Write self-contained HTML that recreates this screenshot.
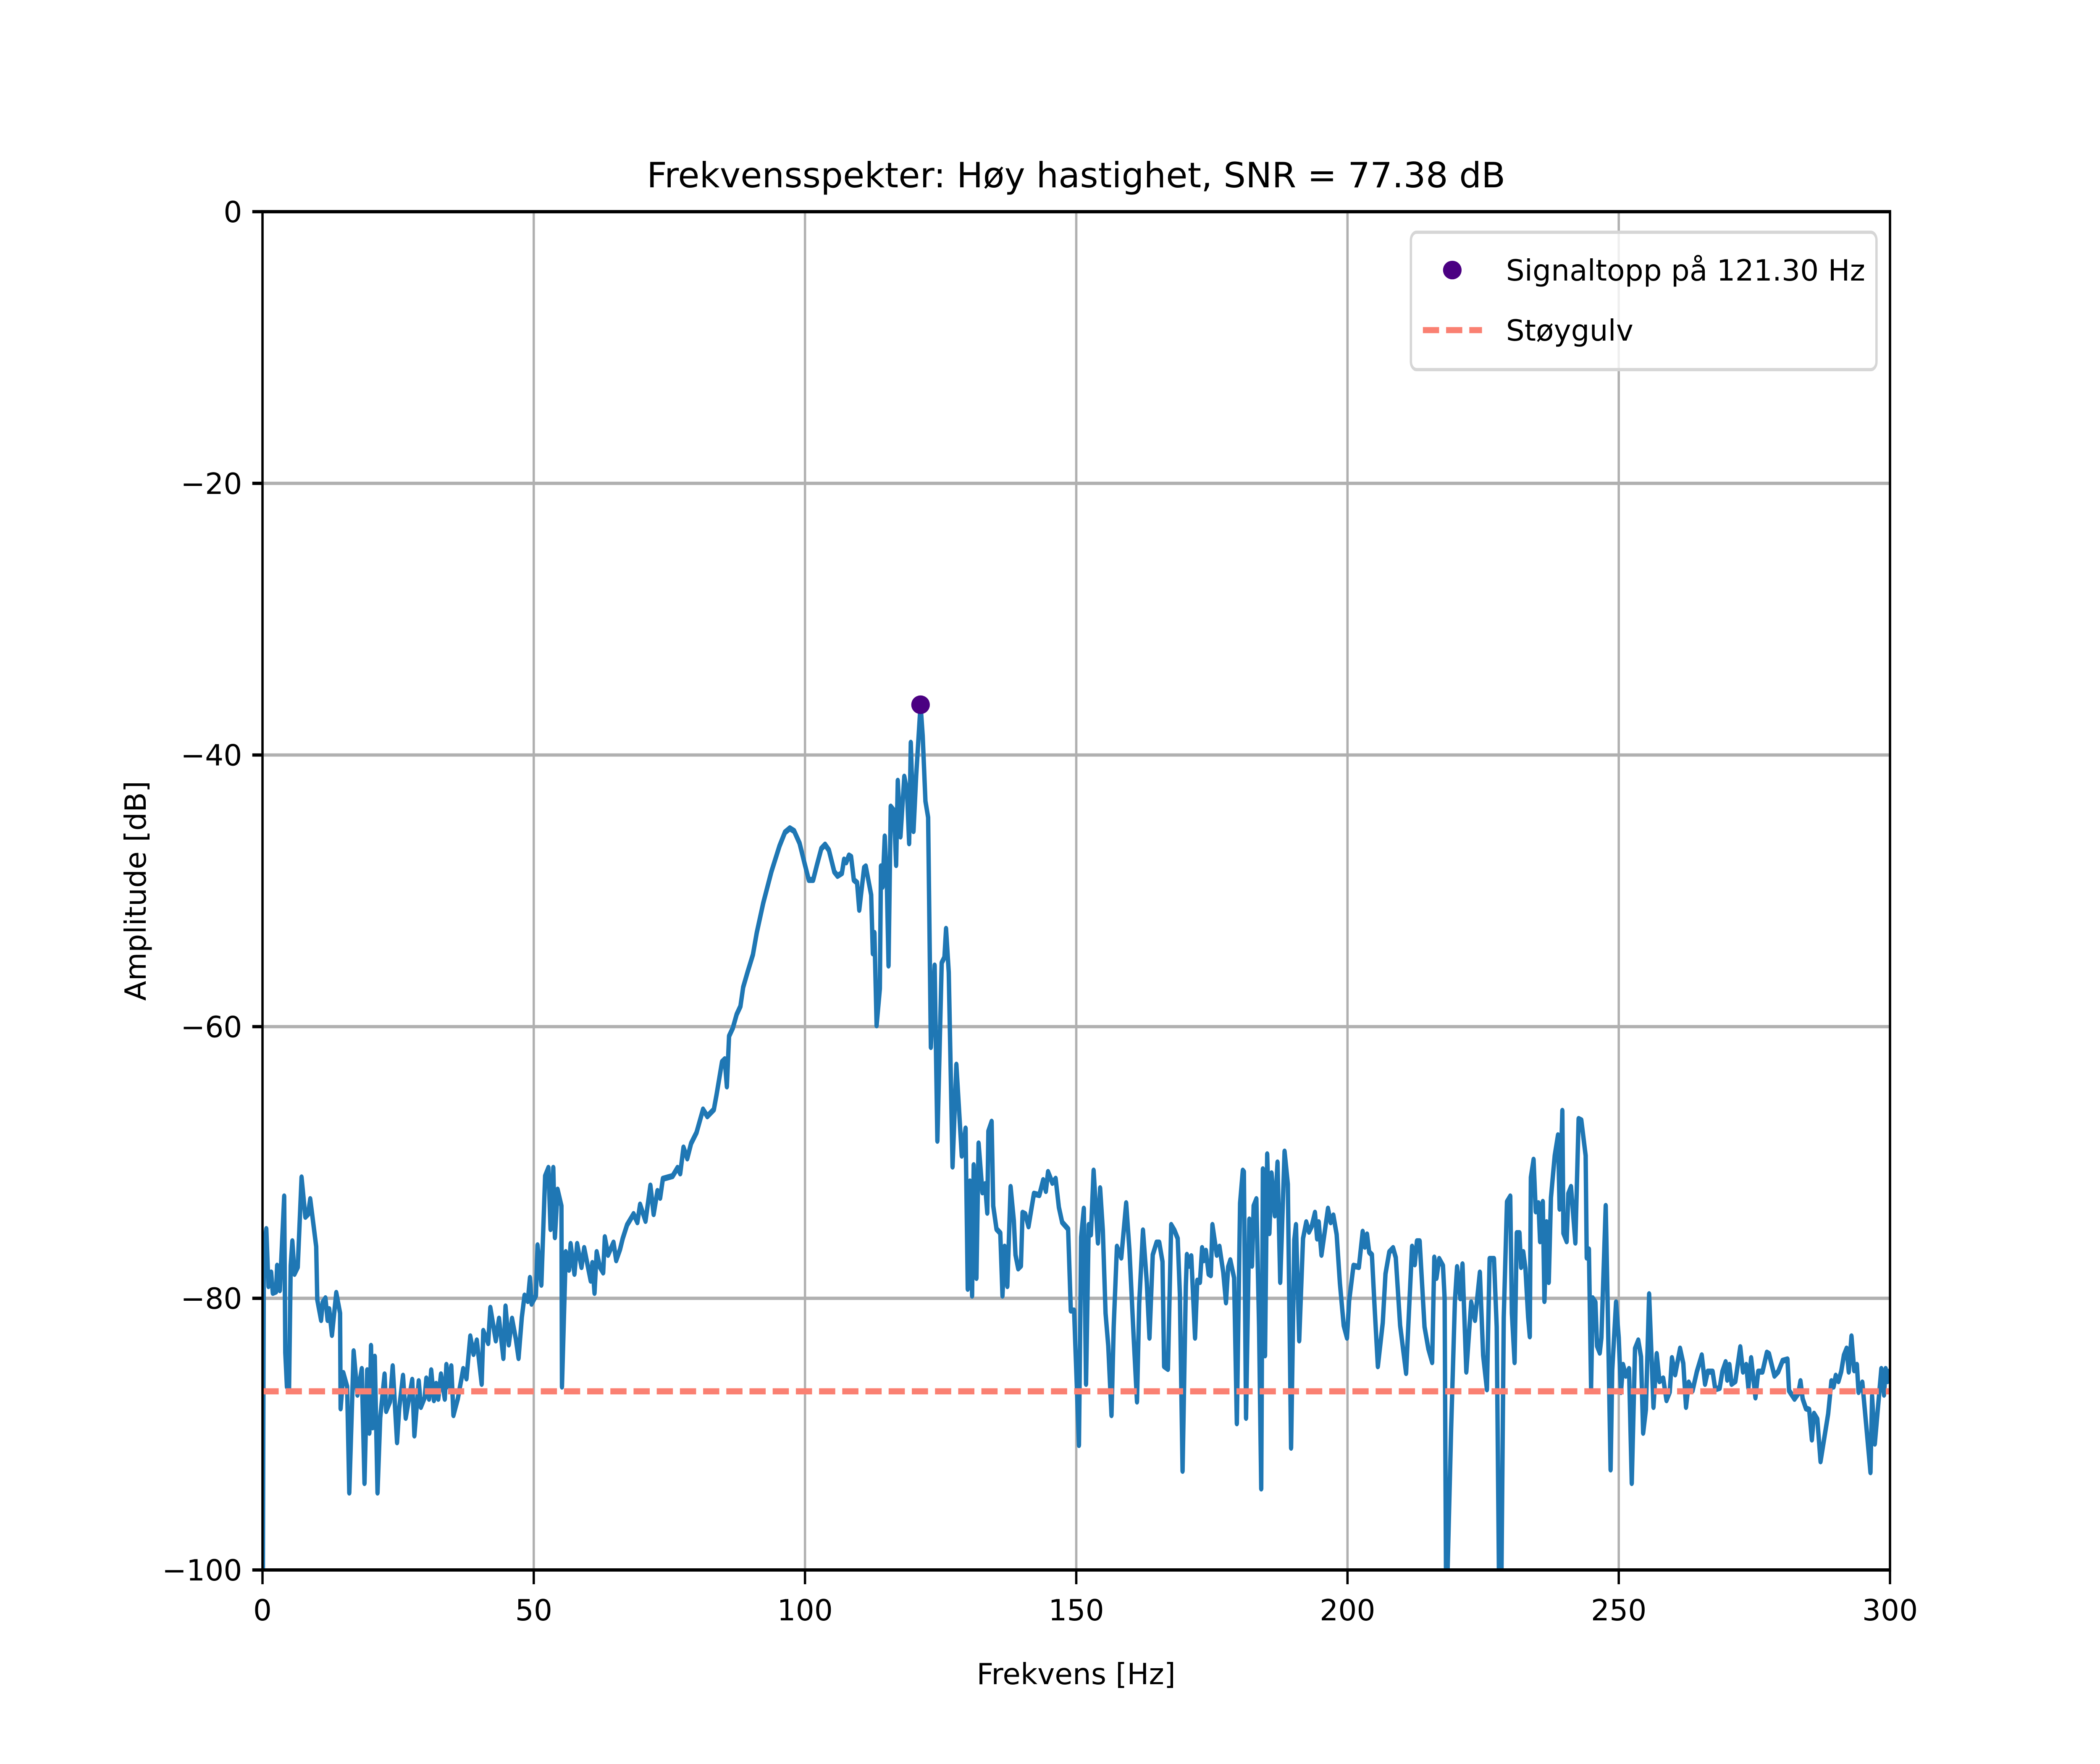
<!DOCTYPE html>
<html><head><meta charset="utf-8"><style>
html,body{margin:0;padding:0;background:#fff;overflow:hidden;width:100vw;height:100vh;}
svg{display:block;width:100vw;height:100vh;}
text{font-family:"DejaVu Sans","Liberation Sans",sans-serif;fill:#000;}
</style></head><body>
<svg id="chart" viewBox="0 0 7000 4200" preserveAspectRatio="none" xmlns="http://www.w3.org/2000/svg">
<rect x="0" y="0" width="7000" height="4200" fill="#fff"/>
<defs><clipPath id="plotclip"><rect x="875" y="504" width="5425" height="3234"/></clipPath></defs>
<g id="grid"></g>
<g id="series" clip-path="url(#plotclip)"></g>
<g id="axes"></g>
<text class="lbl" data-ax="3587" data-ay="446" x="3587" y="446" font-size="116.7" text-anchor="middle">Frekvensspekter: Høy hastighet, SNR = 77.38 dB</text>
<text class="lbl" data-ax="3587" data-ay="4010" x="3587" y="4010" font-size="97.2" text-anchor="middle">Frekvens [Hz]</text>
<text id="ylab" x="0" y="0" font-size="97.2" text-anchor="middle" transform="translate(486,2121) rotate(-90)">Amplitude [dB]</text>
<g id="legend">
<rect x="4703" y="553" width="1552" height="327" rx="19" ry="19" fill="#fff" fill-opacity="0.8" stroke="#d6d6d6" stroke-width="7.8"/>
<ellipse class="dot" cx="4841" cy="643" rx="31" ry="31" fill="#4b0082"/>
<text class="lbl" data-ax="5020" data-ay="643" x="5020" y="678" font-size="97.2">Signaltopp på 121.30 Hz</text>
<line x1="4743" y1="786" x2="4940" y2="786" stroke="#fa8072" stroke-width="14.6" stroke-dasharray="54,23.3"/>
<text class="lbl" data-ax="5020" data-ay="786" x="5020" y="821" font-size="97.2">Støygulv</text>
</g>
</svg>
<script>
const freqs = [0,0.25,0.7,1.1,1.6,1.9,2.5,2.7,3.2,4.0,4.2,4.5,4.9,5.2,5.5,5.9,6.5,7.2,7.9,8.4,8.8,9.4,9.9,10.1,10.8,11.1,11.6,12.0,12.3,12.8,13.6,14.3,14.4,14.9,15.6,16.0,16.8,17.5,18.3,18.8,19.3,19.7,20.0,20.3,20.7,21.2,21.7,22.5,22.8,23.5,24.0,24.8,25.2,25.9,26.4,27.6,28.0,28.8,29.2,29.9,30.2,30.7,31.1,31.6,32.0,32.4,32.9,33.6,33.9,34.3,34.8,35.2,36.0,37.0,37.6,38.3,38.9,39.5,40.4,40.7,41.6,42.0,43.0,43.6,44.4,44.8,45.4,46.0,46.7,47.2,47.8,48.3,48.9,49.3,49.6,50.4,50.7,51.4,52.1,52.7,53.1,53.6,53.9,54.4,55.1,55.2,55.9,56.5,56.8,57.5,58.0,58.8,59.3,60.5,60.8,61.2,61.6,62.2,62.8,63.1,63.7,64.7,65.2,65.9,66.4,67.2,68.4,69.1,69.6,70.6,71.5,72.1,72.8,73.3,73.8,75.6,76.5,77.0,77.6,78.3,79.0,80.0,81.2,82.0,83.2,83.7,84.7,85.2,85.6,86.0,86.7,87.4,88.1,88.6,89.4,90.4,91.1,92.3,93.8,95.3,96.3,97.2,98.0,99.0,100.0,100.7,101.5,102.2,103.0,103.7,104.4,105.4,106.0,106.8,107.2,107.6,108.1,108.5,109.0,109.6,110.0,110.9,111.2,112.2,112.5,112.8,113.2,113.8,114.0,114.3,114.7,115.1,115.4,115.8,116.4,116.8,117.1,117.6,118.3,118.8,119.2,119.5,120.0,120.5,121.3,121.7,122.2,122.7,123.2,123.9,124.4,125.2,125.7,126.0,126.5,127.2,127.9,128.9,129.6,130.0,130.4,130.8,131.1,131.6,132.0,132.7,133.2,133.6,133.8,134.4,134.7,135.3,136.0,136.4,136.8,137.3,137.9,138.5,138.8,139.3,139.8,140.1,140.6,141.2,142.2,143.2,143.9,144.4,144.8,145.6,146.2,146.8,147.4,148.5,149.0,149.6,150.5,150.9,151.4,151.8,152.3,152.7,153.2,154.0,154.4,154.9,155.4,155.9,156.5,156.9,157.5,158.3,159.2,159.8,160.6,161.2,161.6,162.3,163.0,163.5,164.1,164.8,165.3,165.9,166.2,166.9,167.5,168.1,168.7,169.1,169.6,170.2,170.4,170.8,171.2,171.9,172.3,172.8,173.2,173.5,173.9,174.4,174.8,175.1,175.9,176.4,177.1,177.6,178.0,178.4,179.1,179.6,180.2,180.7,180.9,181.3,181.9,182.4,182.7,183.2,183.7,184.1,184.4,184.8,185.2,185.6,186.0,186.6,187.1,187.6,188.4,189.0,189.6,190.2,190.5,191.1,191.8,192.4,192.9,193.4,194.0,194.4,194.7,195.2,196.4,196.9,197.4,198.0,198.6,199.3,199.9,200.3,201.1,202.1,202.8,203.2,203.6,204.0,204.5,205.0,205.6,206.5,207.0,207.7,208.4,208.9,209.7,210.8,211.4,211.9,212.4,212.8,213.3,214.2,214.9,215.6,216.0,216.4,216.9,217.6,217.9,218.2,219.1,219.8,220.2,220.8,221.2,221.9,222.8,223.5,224.4,225.0,225.7,226.2,227.0,227.5,228.0,228.3,228.8,229.4,230.0,230.3,230.8,231.2,231.7,232.0,232.4,232.8,233.3,233.6,233.8,234.3,234.7,235.2,235.5,236.0,236.3,236.7,237.1,237.5,238.2,238.8,239.1,239.6,239.8,240.4,240.7,241.2,242.0,242.6,243.1,243.9,244.1,244.5,244.9,245.2,245.7,246.0,246.5,246.8,247.6,248.0,248.5,248.8,249.5,250.0,250.4,250.8,251.3,251.9,252.4,253.0,253.6,254.1,254.5,255.0,255.6,256.4,257.0,257.5,258.2,258.8,259.4,259.8,260.4,261.3,261.9,262.4,262.9,263.6,264.4,265.3,265.9,266.4,267.3,267.8,268.6,269.1,269.7,270.0,270.4,270.8,271.5,272.4,272.9,273.5,273.9,274.4,275.2,275.7,276.5,277.3,277.7,278.7,279.4,280.2,281.1,281.4,282.4,283.1,283.5,283.9,284.5,285.1,285.6,286.0,286.6,287.2,288.0,288.6,289.2,289.6,290.0,290.5,291.0,291.5,292.0,292.4,292.9,293.4,293.9,294.2,294.9,296.4,296.7,297.2,298.4,298.9,299.2,299.5,299.8];
const amps = [-110,-76.2,-74.9,-79.1,-78.1,-79.6,-79.5,-77.6,-79.4,-72.5,-84.0,-86.5,-86.6,-77.6,-75.8,-78.2,-77.7,-71.1,-74.0,-73.8,-72.7,-74.6,-76.2,-80.1,-81.6,-80.3,-80.0,-81.6,-80.8,-82.7,-79.6,-81.1,-88.1,-85.5,-86.5,-94.3,-83.9,-87.1,-85.2,-93.6,-85.3,-89.9,-83.5,-89.5,-84.3,-94.3,-88.8,-85.6,-88.3,-87.6,-85.0,-90.6,-88.1,-85.7,-88.8,-86.0,-90.1,-86.1,-88.0,-87.3,-85.9,-87.4,-85.3,-87.5,-86.3,-87.4,-85.6,-87.4,-84.9,-86.5,-85.0,-88.6,-87.4,-85.2,-85.9,-82.8,-84.1,-83.1,-86.3,-82.4,-83.3,-80.7,-83.1,-81.5,-84.4,-80.6,-83.4,-81.5,-83.0,-84.4,-81.4,-79.8,-80.2,-78.5,-80.4,-79.8,-76.1,-79.0,-71.0,-70.4,-74.9,-70.4,-75.5,-72.0,-73.2,-86.5,-76.6,-77.9,-76.0,-78.2,-76.0,-77.7,-76.3,-78.7,-77.4,-79.6,-76.6,-77.7,-78.1,-75.5,-76.8,-75.9,-77.2,-76.4,-75.6,-74.6,-73.8,-74.4,-73.1,-74.3,-71.7,-73.8,-72.1,-72.6,-71.2,-71.0,-70.4,-70.8,-68.9,-69.7,-68.6,-67.8,-66.1,-66.6,-66.1,-65.0,-62.6,-62.4,-64.4,-60.7,-60.1,-59.1,-58.5,-57.1,-56.0,-54.7,-53.1,-50.9,-48.6,-46.7,-45.7,-45.4,-45.6,-46.5,-48.1,-49.2,-49.2,-48.1,-46.9,-46.6,-47.0,-48.6,-48.9,-48.7,-47.7,-47.9,-47.4,-47.5,-49.2,-49.4,-51.4,-48.3,-48.2,-50.3,-54.6,-53.1,-59.9,-57.2,-48.2,-49.7,-46.0,-49.7,-55.5,-43.8,-44.1,-48.1,-41.9,-46.0,-41.6,-42.6,-46.5,-39.1,-45.6,-41.5,-36.3,-38.6,-43.4,-44.6,-61.5,-55.5,-68.4,-55.3,-54.9,-52.8,-56.0,-70.3,-62.8,-69.5,-67.5,-79.3,-71.4,-79.8,-70.2,-78.5,-68.6,-72.2,-71.6,-73.7,-67.7,-67.0,-73.2,-74.9,-75.2,-79.8,-76.2,-79.1,-71.8,-74.3,-76.8,-77.8,-77.6,-73.7,-73.8,-74.7,-72.3,-72.4,-71.3,-72.1,-70.7,-71.5,-71.2,-73.3,-74.4,-74.9,-80.9,-80.9,-90.8,-75.5,-73.4,-86.3,-74.6,-75.3,-70.6,-75.9,-71.9,-75.0,-81.1,-83.5,-88.6,-82.1,-76.2,-77.0,-73.0,-76.4,-83.0,-87.6,-80.4,-75.0,-78.8,-82.9,-76.8,-75.9,-75.9,-77.3,-85.0,-85.2,-74.6,-75.0,-75.6,-79.7,-92.7,-79.1,-76.8,-77.6,-76.9,-82.9,-78.7,-78.8,-76.3,-77.2,-76.5,-78.2,-78.3,-74.6,-76.8,-76.2,-78.1,-80.3,-77.7,-77.2,-78.5,-89.2,-73.0,-70.6,-70.7,-88.8,-74.2,-77.6,-73.2,-72.7,-82.1,-94.0,-70.5,-84.2,-69.4,-75.2,-70.8,-73.9,-70.0,-78.8,-69.2,-71.6,-91.0,-75.7,-74.6,-83.1,-75.6,-74.4,-75.1,-74.7,-73.7,-75.6,-74.4,-76.8,-73.4,-74.4,-73.9,-75.3,-78.9,-82.0,-82.9,-80.2,-77.6,-77.7,-75.1,-76.2,-75.3,-76.6,-76.8,-80.7,-85.0,-81.8,-78.2,-76.6,-76.3,-77.0,-82.0,-85.5,-80.4,-76.2,-77.5,-75.8,-75.8,-82.1,-83.7,-84.7,-77.0,-78.5,-77.1,-77.6,-80.0,-104,-89.6,-80.2,-77.7,-80.0,-77.5,-85.4,-80.3,-81.6,-78.1,-84.2,-86.7,-77.1,-77.1,-82.1,-104,-104,-81.4,-72.9,-72.5,-81.1,-84.7,-75.2,-75.2,-77.7,-76.6,-77.8,-81.4,-82.8,-71.1,-69.8,-73.6,-73.0,-75.8,-72.9,-80.2,-74.4,-78.8,-72.6,-69.5,-68.0,-73.4,-66.2,-75.2,-75.8,-72.3,-71.8,-75.9,-66.8,-66.9,-69.5,-77.0,-76.4,-86.6,-80.0,-80.3,-83.5,-84.0,-82.9,-73.2,-81.4,-92.6,-85.3,-80.3,-82.9,-86.9,-84.9,-85.7,-85.2,-93.6,-83.7,-83.1,-84.3,-89.9,-88.2,-79.7,-88.0,-84.1,-86.1,-85.9,-87.5,-86.9,-84.4,-85.6,-83.7,-84.8,-88.0,-86.2,-86.8,-85.4,-84.2,-86.3,-85.4,-85.4,-86.7,-86.6,-85.4,-84.7,-86.0,-84.9,-86.3,-86.1,-83.6,-85.4,-84.9,-86.6,-84.4,-87.3,-85.4,-85.4,-84.0,-84.1,-85.7,-85.4,-84.6,-84.5,-86.8,-87.4,-87.0,-86.1,-87.4,-88.1,-88.2,-90.4,-88.5,-88.9,-92.0,-90.0,-88.5,-86.1,-86.5,-85.7,-86.1,-85.4,-84.2,-83.7,-85.4,-82.8,-85.3,-84.9,-86.9,-86.2,-92.8,-87.2,-90.7,-85.2,-87.1,-85.2,-86.1,-85.4];
const peakFreq = [121.3];
const peakAmp = [-36.3];
const noiseFloor = [-86.85];
const xTicks = [0,50,100,150,200,250,300];
const yTicks = [0,-20,-40,-60,-80,-100];
const yTickLabels = ["0","\u221220","\u221240","\u221260","\u221280","\u2212100"];

const X0=875, X1=6300, Y0=504, Y1=3738, XMIN=0, XMAX=300, YMIN=-100, YMAX=0;
function xs(v){return X0+(v-XMIN)/(XMAX-XMIN)*(X1-X0);}
function ys(v){return Y1-(v-YMIN)/(YMAX-YMIN)*(Y1-Y0);}
const NS="http://www.w3.org/2000/svg";
function mk(tag,attrs,parent){const e=document.createElementNS(NS,tag);for(const k in attrs)e.setAttribute(k,attrs[k]);parent.appendChild(e);return e;}
const grid=document.getElementById('grid'), series=document.getElementById('series'), axes=document.getElementById('axes');

xTicks.forEach((t,i)=>{
  const g=mk('line',{x1:xs(t),x2:xs(t),y1:Y0,y2:Y1,stroke:'#b0b0b0','stroke-width':7.8},grid);
  
  
  const tk=mk('line',{x1:xs(t),x2:xs(t),y1:Y1,y2:Y1+34,stroke:'#000','stroke-width':7.8},axes);
  
  
  const tx=mk('text',{x:xs(t),y:Y1+34+34+73,'font-size':97.2,'text-anchor':'middle','class':'lbl','data-ax':xs(t),'data-ay':Y1+68},axes);
  tx.textContent=String(t);
  
  
});
yTicks.forEach((t,i)=>{
  const g=mk('line',{x1:X0,x2:X1,y1:ys(t),y2:ys(t),stroke:'#b0b0b0','stroke-width':7.8},grid);
  
  
  const tk=mk('line',{x1:X0-34,x2:X0,y1:ys(t),y2:ys(t),stroke:'#000','stroke-width':7.8},axes);
  
  
  const tx=mk('text',{x:X0-34-34,y:ys(t)+35,'font-size':97.2,'text-anchor':'end','class':'lbl','data-ax':X0-68,'data-ay':ys(t)},axes);
  tx.textContent=yTickLabels[i];
  
  
});

let d='';
for(let i=0;i<freqs.length;i++){d+=(i?'L':'M')+xs(freqs[i]).toFixed(1)+','+ys(amps[i]).toFixed(1);}
const line=mk('path',{d:d,fill:'none',stroke:'#1f77b4','stroke-width':14.6,'stroke-linejoin':'round','stroke-linecap':'round'},series);



const fl=mk('line',{x1:X0,x2:X1,y1:ys(noiseFloor[0]),y2:ys(noiseFloor[0]),stroke:'#fa8072','stroke-width':14.6,'stroke-dasharray':'54,23.3'},series);



const pk=mk('ellipse',{cx:xs(peakFreq[0]),cy:ys(peakAmp[0]),rx:31,ry:31,fill:'#4b0082','class':'dot'},axes);



const fr=mk('rect',{x:X0,y:Y0,width:X1-X0,height:Y1-Y0,fill:'none',stroke:'#000','stroke-width':7.8},axes);



/* compensate for non-uniform viewport stretch so text/markers keep proportions */
const k=(window.innerHeight/4200)/(window.innerWidth/7000);
if(isFinite(k)&&k>0&&Math.abs(k-1)>0.01){
  document.querySelectorAll('text.lbl').forEach(t=>{
    const ax=+t.getAttribute('data-ax'), ay=+t.getAttribute('data-ay');
    t.setAttribute('transform','translate('+ax+','+ay+') scale(1,'+(1/k)+') translate('+(-ax)+','+(-ay)+')');
  });
  document.querySelectorAll('ellipse.dot').forEach(e=>{e.setAttribute('ry',31/k);});
  document.getElementById('ylab').setAttribute('transform','translate(486,2121) scale(1,'+(1/k)+') rotate(-90)');
}
</script>
</body></html>
